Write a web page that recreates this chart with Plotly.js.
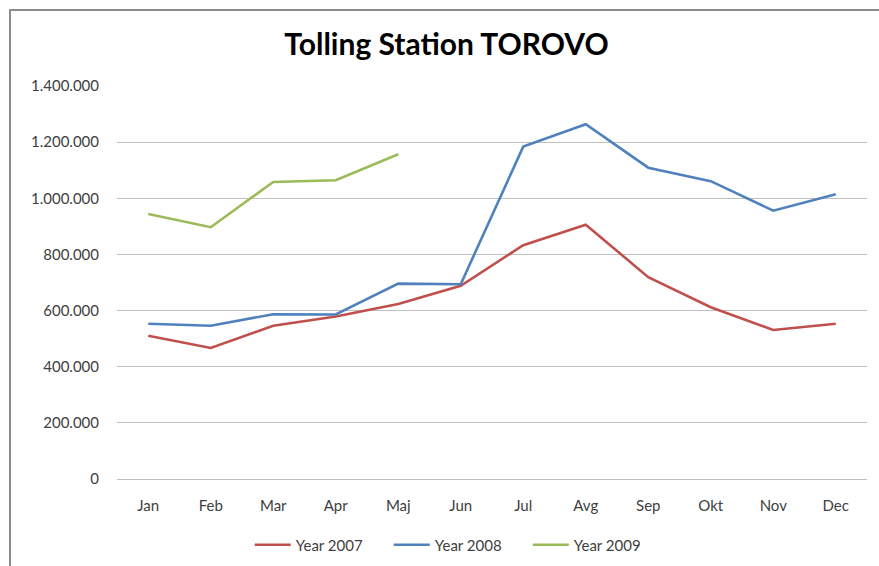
<!DOCTYPE html>
<html>
<head>
<meta charset="utf-8">
<script src="https://cdn.plot.ly/plotly-3.0.1.min.js"></script>
<style>html,body{margin:0;padding:0;background:#fff;}#chart{width:879px;height:566px;}</style>
</head>
<body>
<div id="chart"></div>
<script>
const months = ["Jan","Feb","Mar","Apr","Maj","Jun","Jul","Avg","Sep","Okt","Nov","Dec"];
const year2007 = [510000, 467000, 546000, 579000, 623000, 688000, 833000, 906000, 719000, 612000, 531000, 553000];
const year2008 = [553000, 546000, 587000, 586000, 696000, 694000, 1184000, 1264000, 1109000, 1061000, 956000, 1014000];
const year2009 = [944000, 897000, 1058000, 1064000, 1157000];
const seriesNames = ["Year 2007", "Year 2008", "Year 2009"];
const seriesColors = ["#C0504D", "#4F81BD", "#9BBB59"];

const data = [year2007, year2008, year2009].map((vals, i) => ({
  type: "scatter",
  mode: "lines",
  x: months.slice(0, vals.length),
  y: vals,
  name: seriesNames[i],
  line: {color: seriesColors[i], width: 2.6},
  hoverinfo: "x+y+name"
}));

const layout = {
  width: 879, height: 566,
  separators: ",.",
  paper_bgcolor: "#fff",
  plot_bgcolor: "#fff",
  margin: {l: 117, r: 12, t: 86, b: 87, autoexpand: false},
  font: {family: "Lato, Calibri, sans-serif", size: 15, color: "#404040"},
  title: {
    text: "<b>Tolling Station TOROVO</b>",
    font: {family: "Lato, sans-serif", size: 30, color: "#000"},
    x: 0.508, xanchor: "center", y: 0.922, yanchor: "middle"
  },
  xaxis: {
    type: "category",
    categoryorder: "array",
    categoryarray: months,
    range: [-0.5, 11.5],
    showgrid: false,
    showline: false,
    ticks: "",
    ticklabelstandoff: 16,
    tickfont: {size: 15, color: "#404040"},
    fixedrange: true
  },
  yaxis: {
    range: [0, 1400000],
    dtick: 200000,
    tickformat: ",d",
    showgrid: true,
    gridcolor: "#BFBFBF",
    gridwidth: 1,
    zeroline: true,
    zerolinecolor: "#BFBFBF",
    zerolinewidth: 1,
    showline: false,
    ticks: "",
    ticklabelstandoff: 17,
    tickfont: {size: 15, color: "#404040"},
    fixedrange: true
  },
  showlegend: true,
  legend: {
    orientation: "h",
    x: 0.455, xanchor: "center",
    y: -0.168, yanchor: "middle",
    font: {size: 15, color: "#404040"},
    itemwidth: 36,
    entrywidth: 88,
    entrywidthmode: "pixels",
    tracegroupgap: 0
  },
  shapes: [{
    type: "rect", xref: "paper", yref: "paper",
    x0: -107/750, x1: 1 + 20/750, y0: -100/393, y1: 1 + 76/393,
    line: {color: "#8C8C8C", width: 2},
    fillcolor: "rgba(0,0,0,0)", layer: "below"
  }]
};

Plotly.newPlot("chart", data, layout, {displayModeBar: false, staticPlot: true});
</script>
</body>
</html>
